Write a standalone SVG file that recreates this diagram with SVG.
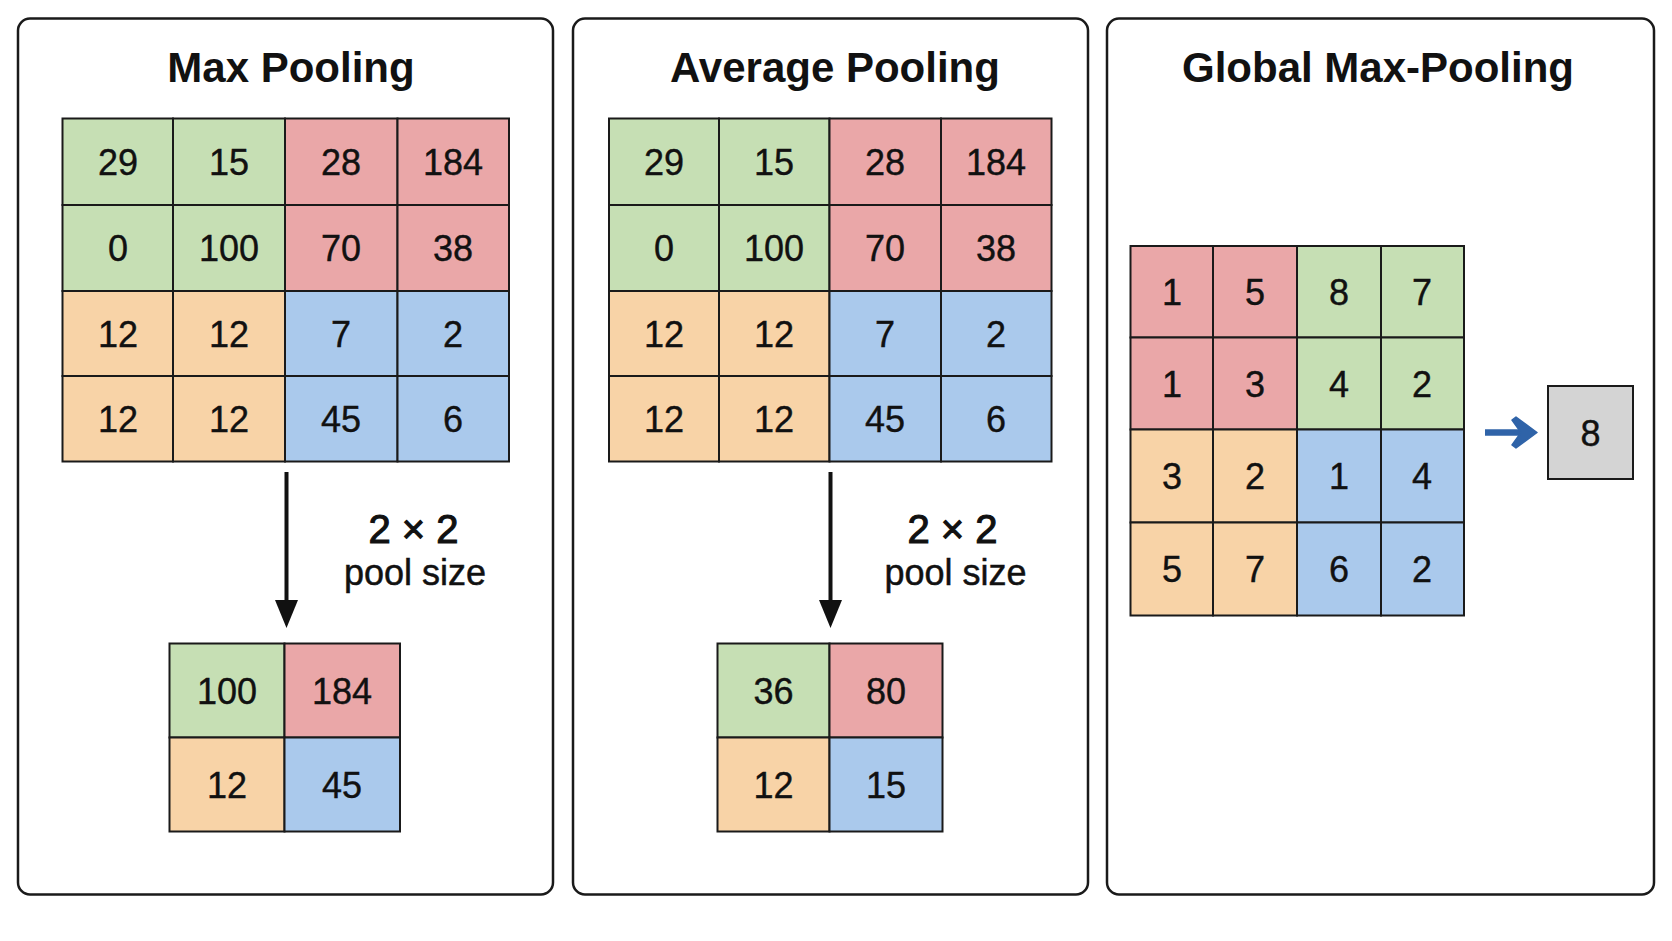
<svg xmlns="http://www.w3.org/2000/svg" width="1672" height="941" viewBox="0 0 1672 941">
<style>
.panel{fill:#fff;stroke:#1a1a1a;stroke-width:2.5}
.title{font-family:"Liberation Sans",Arial,sans-serif;font-weight:bold;font-size:42px;fill:#111;text-anchor:middle}
.num{font-family:"Liberation Sans",Arial,sans-serif;font-size:36px;fill:#111;stroke:#111;stroke-width:0.4;text-anchor:middle}
.lbl{font-family:"Liberation Sans",Arial,sans-serif;font-size:36px;fill:#111;stroke:#111;stroke-width:0.5;text-anchor:middle}
.lbl2{font-family:"Liberation Sans",Arial,sans-serif;font-size:40px;fill:#111;stroke:#111;stroke-width:1.1;text-anchor:middle}
.g{fill:#c6dfb4;stroke:#1a1a1a;stroke-width:2}
.r{fill:#eaa7a8;stroke:#1a1a1a;stroke-width:2}
.o{fill:#f8d3a7;stroke:#1a1a1a;stroke-width:2}
.b{fill:#aac9ec;stroke:#1a1a1a;stroke-width:2}
.gray{fill:#d4d4d4;stroke:#1a1a1a;stroke-width:2}
</style>
<rect width="1672" height="941" fill="#fff"/>

<g id="panel-max">
<rect class="panel" x="18" y="18.5" width="535" height="876" rx="12"/>
<text class="title" x="291" y="82">Max Pooling</text>
</g>
<g id="panel-avg">
<rect class="panel" x="573" y="18.5" width="515" height="876" rx="12"/>
<text class="title" x="835" y="82">Average Pooling</text>
</g>
<g id="panel-global">
<rect class="panel" x="1107" y="18.5" width="547" height="876" rx="12"/>
<text class="title" x="1378" y="82">Global Max-Pooling</text>
</g>

<g id="grid-max-input">
<rect class="g" x="62.5" y="118.5" width="110.5" height="86.5"/>
<rect class="g" x="173" y="118.5" width="112" height="86.5"/>
<rect class="r" x="285" y="118.5" width="112.5" height="86.5"/>
<rect class="r" x="397.5" y="118.5" width="111.5" height="86.5"/>
<rect class="g" x="62.5" y="205" width="110.5" height="86"/>
<rect class="g" x="173" y="205" width="112" height="86"/>
<rect class="r" x="285" y="205" width="112.5" height="86"/>
<rect class="r" x="397.5" y="205" width="111.5" height="86"/>
<rect class="o" x="62.5" y="291" width="110.5" height="85"/>
<rect class="o" x="173" y="291" width="112" height="85"/>
<rect class="b" x="285" y="291" width="112.5" height="85"/>
<rect class="b" x="397.5" y="291" width="111.5" height="85"/>
<rect class="o" x="62.5" y="376" width="110.5" height="85.5"/>
<rect class="o" x="173" y="376" width="112" height="85.5"/>
<rect class="b" x="285" y="376" width="112.5" height="85.5"/>
<rect class="b" x="397.5" y="376" width="111.5" height="85.5"/>
<text class="num" x="118" y="175">29</text>
<text class="num" x="229" y="175">15</text>
<text class="num" x="341" y="175">28</text>
<text class="num" x="453" y="175">184</text>
<text class="num" x="118" y="261">0</text>
<text class="num" x="229" y="261">100</text>
<text class="num" x="341" y="261">70</text>
<text class="num" x="453" y="261">38</text>
<text class="num" x="118" y="346.5">12</text>
<text class="num" x="229" y="346.5">12</text>
<text class="num" x="341" y="346.5">7</text>
<text class="num" x="453" y="346.5">2</text>
<text class="num" x="118" y="432">12</text>
<text class="num" x="229" y="432">12</text>
<text class="num" x="341" y="432">45</text>
<text class="num" x="453" y="432">6</text>
</g>

<g id="grid-max-output">
<rect class="g" x="169.5" y="643.5" width="115" height="94"/>
<rect class="r" x="284.5" y="643.5" width="115.5" height="94"/>
<rect class="o" x="169.5" y="737.5" width="115" height="94"/>
<rect class="b" x="284.5" y="737.5" width="115.5" height="94"/>
<text class="num" x="227" y="703.5">100</text>
<text class="num" x="342" y="703.5">184</text>
<text class="num" x="227" y="797.5">12</text>
<text class="num" x="342" y="797.5">45</text>
</g>
<g id="label-max">
<text class="lbl2" x="413.5" y="543">2 × 2</text>
<text class="lbl" x="415" y="585">pool size</text>
</g>

<g id="grid-avg-input">
<rect class="g" x="609" y="118.5" width="110" height="86.5"/>
<rect class="g" x="719" y="118.5" width="110.5" height="86.5"/>
<rect class="r" x="829.5" y="118.5" width="111.5" height="86.5"/>
<rect class="r" x="941" y="118.5" width="110.5" height="86.5"/>
<rect class="g" x="609" y="205" width="110" height="86"/>
<rect class="g" x="719" y="205" width="110.5" height="86"/>
<rect class="r" x="829.5" y="205" width="111.5" height="86"/>
<rect class="r" x="941" y="205" width="110.5" height="86"/>
<rect class="o" x="609" y="291" width="110" height="85"/>
<rect class="o" x="719" y="291" width="110.5" height="85"/>
<rect class="b" x="829.5" y="291" width="111.5" height="85"/>
<rect class="b" x="941" y="291" width="110.5" height="85"/>
<rect class="o" x="609" y="376" width="110" height="85.5"/>
<rect class="o" x="719" y="376" width="110.5" height="85.5"/>
<rect class="b" x="829.5" y="376" width="111.5" height="85.5"/>
<rect class="b" x="941" y="376" width="110.5" height="85.5"/>
<text class="num" x="664" y="175">29</text>
<text class="num" x="774" y="175">15</text>
<text class="num" x="885" y="175">28</text>
<text class="num" x="996" y="175">184</text>
<text class="num" x="664" y="261">0</text>
<text class="num" x="774" y="261">100</text>
<text class="num" x="885" y="261">70</text>
<text class="num" x="996" y="261">38</text>
<text class="num" x="664" y="346.5">12</text>
<text class="num" x="774" y="346.5">12</text>
<text class="num" x="885" y="346.5">7</text>
<text class="num" x="996" y="346.5">2</text>
<text class="num" x="664" y="432">12</text>
<text class="num" x="774" y="432">12</text>
<text class="num" x="885" y="432">45</text>
<text class="num" x="996" y="432">6</text>
</g>

<g id="grid-avg-output">
<rect class="g" x="717.5" y="643.5" width="112" height="94"/>
<rect class="r" x="829.5" y="643.5" width="113" height="94"/>
<rect class="o" x="717.5" y="737.5" width="112" height="94"/>
<rect class="b" x="829.5" y="737.5" width="113" height="94"/>
<text class="num" x="773.5" y="703.5">36</text>
<text class="num" x="886" y="703.5">80</text>
<text class="num" x="773.5" y="797.5">12</text>
<text class="num" x="886" y="797.5">15</text>
</g>
<g id="label-avg">
<text class="lbl2" x="952.5" y="543">2 × 2</text>
<text class="lbl" x="955.5" y="585">pool size</text>
</g>

<g id="grid-global-input">
<rect class="r" x="1130.5" y="246" width="82.5" height="91.5"/>
<rect class="r" x="1213" y="246" width="84" height="91.5"/>
<rect class="g" x="1297" y="246" width="84" height="91.5"/>
<rect class="g" x="1381" y="246" width="83" height="91.5"/>
<rect class="r" x="1130.5" y="337.5" width="82.5" height="92"/>
<rect class="r" x="1213" y="337.5" width="84" height="92"/>
<rect class="g" x="1297" y="337.5" width="84" height="92"/>
<rect class="g" x="1381" y="337.5" width="83" height="92"/>
<rect class="o" x="1130.5" y="429.5" width="82.5" height="93"/>
<rect class="o" x="1213" y="429.5" width="84" height="93"/>
<rect class="b" x="1297" y="429.5" width="84" height="93"/>
<rect class="b" x="1381" y="429.5" width="83" height="93"/>
<rect class="o" x="1130.5" y="522.5" width="82.5" height="93"/>
<rect class="o" x="1213" y="522.5" width="84" height="93"/>
<rect class="b" x="1297" y="522.5" width="84" height="93"/>
<rect class="b" x="1381" y="522.5" width="83" height="93"/>
<text class="num" x="1172" y="305">1</text>
<text class="num" x="1255" y="305">5</text>
<text class="num" x="1339" y="305">8</text>
<text class="num" x="1422" y="305">7</text>
<text class="num" x="1172" y="396.5">1</text>
<text class="num" x="1255" y="396.5">3</text>
<text class="num" x="1339" y="396.5">4</text>
<text class="num" x="1422" y="396.5">2</text>
<text class="num" x="1172" y="489">3</text>
<text class="num" x="1255" y="489">2</text>
<text class="num" x="1339" y="489">1</text>
<text class="num" x="1422" y="489">4</text>
<text class="num" x="1172" y="582">5</text>
<text class="num" x="1255" y="582">7</text>
<text class="num" x="1339" y="582">6</text>
<text class="num" x="1422" y="582">2</text>
</g>

<g id="global-output">
<rect class="gray" x="1548" y="386" width="85" height="93"/>
<text class="num" x="1590.5" y="446">8</text>
</g>

<g id="connectors">
<line x1="286.5" y1="472" x2="286.5" y2="605" stroke="#111" stroke-width="4"/>
<polygon points="275,600 298,600 286.5,628" fill="#111"/>
<line x1="830.5" y1="472" x2="830.5" y2="605" stroke="#111" stroke-width="4"/>
<polygon points="819,600 842,600 830.5,628" fill="#111"/>
<line x1="1485" y1="432.5" x2="1524" y2="432.5" stroke="#2f63a8" stroke-width="6.5"/>
<path d="M1512,420 L1516,417 L1537,432.5 L1516,448 L1512,445 L1521,432.5 Z" fill="#2f63a8" stroke="#2f63a8" stroke-width="1.5" stroke-linejoin="round"/>
</g>
</svg>
